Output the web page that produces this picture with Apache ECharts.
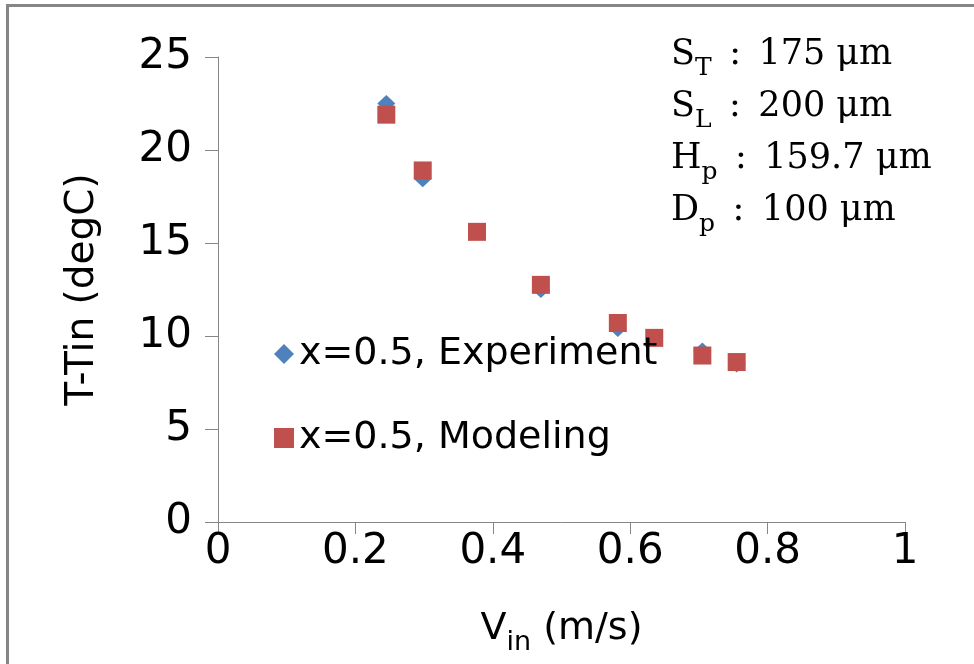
<!DOCTYPE html>
<html><head><meta charset="utf-8">
<script src="https://cdn.jsdelivr.net/npm/echarts@6/dist/echarts.min.js"></script>
<style>html,body{margin:0;padding:0;background:#fff}#c{width:974px;height:664px}</style>
</head><body><div id="c"></div>
<script>
const vinExp = [0.245, 0.298, 0.377, 0.470, 0.582, 0.635, 0.705, 0.755];
const tExp   = [22.5, 18.45, 15.6, 12.5, 10.4, 9.9, 9.2, 8.5];
const vinMod = [0.245, 0.298, 0.377, 0.470, 0.582, 0.635, 0.705, 0.755];
const tMod   = [21.9, 18.9, 15.6, 12.75, 10.7, 9.9, 8.95, 8.6];
const seriesNames = ['x=0.5, Experiment', 'x=0.5, Modeling'];
const xTicks = [0, 0.2, 0.4, 0.6, 0.8, 1];
const yTicks = [0, 5, 10, 15, 20, 25];
const params = [['S','T','175 μm'],['S','L','200 μm'],['H','p','159.7 μm'],['D','p','100 μm']];

const chart = echarts.init(document.getElementById('c'));
const axisCol = '#868686';
const sans = 'DejaVu Sans';
const serif = 'DejaVu Serif';
const richAxis = {
  a:{fontFamily:sans,fontSize:38,color:'#000',verticalAlign:'bottom',padding:[0,0,8,0]},
  b:{fontFamily:sans,fontSize:27,color:'#000',verticalAlign:'bottom',padding:[0,0,0,0]}
};
const richSerif = {
  a:{fontFamily:serif,fontSize:35,color:'#000',verticalAlign:'bottom',padding:[0,0,9,0]},
  b:{fontFamily:serif,fontSize:25,color:'#000',verticalAlign:'bottom',padding:[0,0,0,0]}
};
chart.setOption({
  backgroundColor:'#fff',
  animation:false,
  grid:{left:218,right:69,top:57,bottom:142},
  xAxis:{type:'value',min:xTicks[0],max:xTicks[xTicks.length-1],interval:0.2,
    axisLine:{show:true,onZero:false,lineStyle:{color:axisCol,width:1}},
    axisTick:{show:true,inside:false,length:12,lineStyle:{color:axisCol}},
    splitLine:{show:false},
    axisLabel:{fontFamily:sans,fontSize:42,color:'#000',margin:9,formatter:v=>String(+v.toFixed(1))},
    name:'{a|V}{b|in}{a| (m/s)}',nameLocation:'middle',nameGap:88,
    nameTextStyle:{rich:richAxis}},
  yAxis:{type:'value',min:yTicks[0],max:yTicks[yTicks.length-1],interval:5,
    axisLine:{show:true,lineStyle:{color:axisCol,width:1}},
    axisTick:{show:true,inside:false,length:13,lineStyle:{color:axisCol}},
    splitLine:{show:false},
    axisLabel:{fontFamily:sans,fontSize:42,color:'#000',margin:26},
    name:'T-Tin (degC)',nameLocation:'middle',nameGap:116,
    nameTextStyle:{fontFamily:sans,fontSize:39,color:'#000'}},
  legend:{orient:'vertical',left:269,top:330,itemGap:46,itemWidth:20,itemHeight:20,
    textStyle:{fontFamily:sans,fontSize:38,color:'#000',padding:[0,0,0,0]},
    data:[{name:seriesNames[0],icon:'diamond'},{name:seriesNames[1],icon:'rect'}]},
  graphic:[
    {type:'polyline',shape:{points:[[7.5,664],[7.5,5.5],[974,5.5]]},style:{stroke:'#868686',lineWidth:3,fill:null},silent:true},
    {type:'text',left:671,top:29,style:{
      text:params.map(p=>'{a|'+p[0]+'}{b|'+p[1]+'}{a|\u2002:\u2002'+p[2]+'}').join('\n'),
      rich:richSerif,lineHeight:52}}
  ],
  series:[
    {name:seriesNames[0],type:'scatter',symbol:'diamond',symbolSize:[18,17],
      itemStyle:{color:'#4F81BD',opacity:1},data:vinExp.map((v,i)=>[v,tExp[i]]),z:2},
    {name:seriesNames[1],type:'scatter',symbol:'rect',symbolSize:18,
      itemStyle:{color:'#C0504D',opacity:1},data:vinMod.map((v,i)=>[v,tMod[i]]),z:3}
  ]
});
</script></body></html>
